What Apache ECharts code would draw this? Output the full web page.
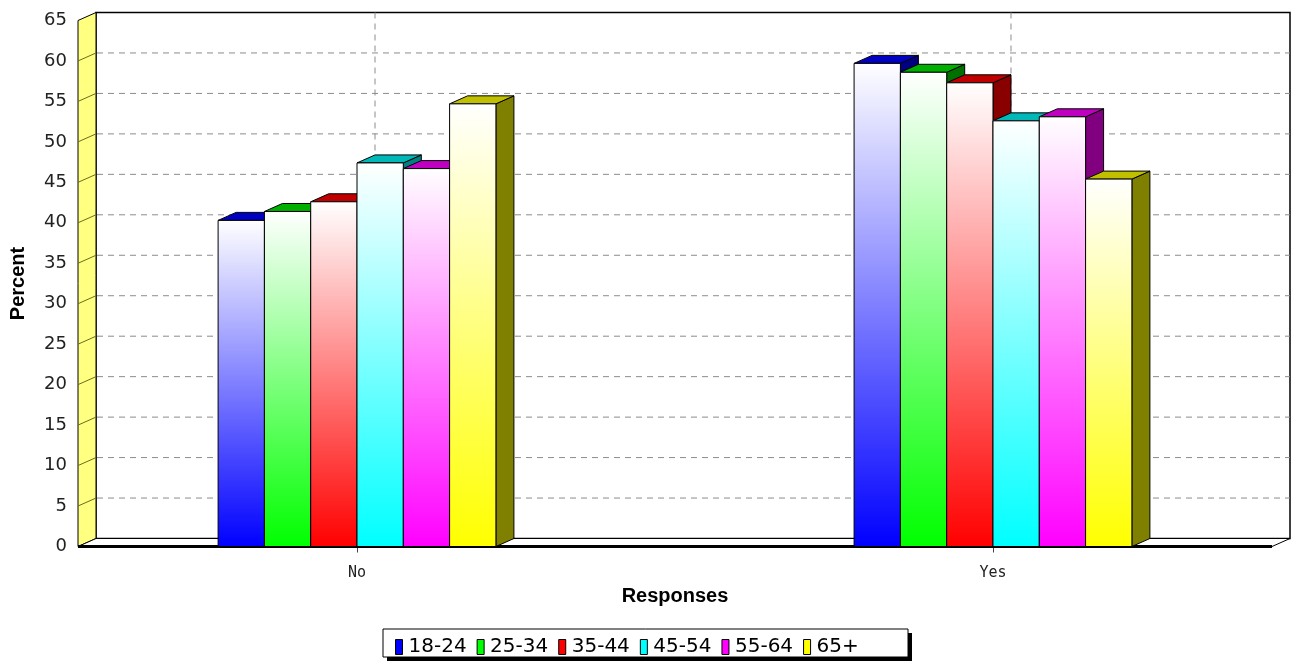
<!DOCTYPE html>
<html>
<head>
<meta charset="utf-8">
<script src="https://cdn.jsdelivr.net/npm/echarts@6/dist/echarts.min.js"></script>
<style>html,body{margin:0;padding:0;background:#fff;}#c{width:1293px;height:666px;}</style>
</head>
<body>
<div id="c"></div>
<script>
// ---- data ----
const categories = ['No', 'Yes'];
const ageGroups = ['18-24', '25-34', '35-44', '45-54', '55-64', '65+'];
const age1824 = [40.3, 59.7];
const age2534 = [41.4, 58.6];
const age3544 = [42.6, 57.3];
const age4554 = [47.4, 52.6];
const age5564 = [46.7, 53.1];
const age65p  = [54.7, 45.4];
const yMin = 0, yMax = 65, yStep = 5;

// ---- styling ----
const seriesValues = [age1824, age2534, age3544, age4554, age5564, age65p];
const baseColors = ['#0000ff', '#00ff00', '#ff0000', '#00ffff', '#ff00ff', '#ffff00'];
const topColors  = ['#0000c0', '#00b000', '#c00000', '#00b8b8', '#c000c0', '#c0c000'];
const sideColors = ['#000080', '#007000', '#880000', '#008080', '#800080', '#808000'];
const X_MIN = -0.4387, X_MAX = 1.4387;
const BAR_UNITS = 0.0728;
const DX = 18, DY = -8;

function frameRender(params, api) {
  const tl = api.coord([X_MIN, yMax]);
  const bl = api.coord([X_MIN, yMin]);
  const br = api.coord([X_MAX, yMin]);
  const tr = api.coord([X_MAX, yMax]);
  const children = [];
  // back wall
  children.push({type: 'rect', shape: {x: tl[0] + DX, y: tl[1] + DY, width: br[0] - bl[0], height: bl[1] - tl[1]},
    style: {fill: '#fff', stroke: '#000', lineWidth: 1.5}});
  // back grid lines
  for (let v = yMin + yStep; v < yMax; v += yStep) {
    const a = api.coord([X_MIN, v]), b = api.coord([X_MAX, v]);
    children.push({type: 'line', shape: {x1: a[0] + DX + 1, y1: a[1] + DY, x2: b[0] + DX, y2: b[1] + DY},
      style: {stroke: '#8c8c8c', lineWidth: 1, lineDash: [6, 5]}});
  }
  for (let c = 0; c < categories.length; c++) {
    const a = api.coord([c, yMax]), b = api.coord([c, yMin]);
    children.push({type: 'line', shape: {x1: a[0] + DX, y1: a[1] + DY, x2: b[0] + DX, y2: b[1] + DY},
      style: {stroke: '#8c8c8c', lineWidth: 1, lineDash: [6, 5]}});
  }
  // left wall
  children.push({type: 'polygon', shape: {points: [[tl[0], tl[1]], [tl[0] + DX, tl[1] + DY], [bl[0] + DX, bl[1] + DY], [bl[0], bl[1]]]},
    style: {fill: '#ffff80', stroke: '#000', lineWidth: 1}});
  for (let v = yMin + yStep; v < yMax; v += yStep) {
    const a = api.coord([X_MIN, v]);
    children.push({type: 'line', shape: {x1: a[0], y1: a[1], x2: a[0] + DX, y2: a[1] + DY},
      style: {stroke: '#6b6b20', lineWidth: 1}});
  }
  // floor
  children.push({type: 'polygon', shape: {points: [[bl[0], bl[1]], [br[0], br[1]], [br[0] + DX, br[1] + DY], [bl[0] + DX, bl[1] + DY]]},
    style: {fill: '#fff', stroke: '#000', lineWidth: 1}});
  children.push({type: 'line', shape: {x1: bl[0], y1: bl[1], x2: br[0], y2: br[1]},
    style: {stroke: '#000', lineWidth: 3}});
  return {type: 'group', children: children};
}

function barRender(i) {
  return function (params, api) {
    const x = api.value(0), v = api.value(1);
    const top = api.coord([x, v]);
    const base = api.coord([x, yMin]);
    const w = api.size([BAR_UNITS, 0])[0];
    const x0 = top[0] + (i - ageGroups.length / 2) * w;
    const x1 = x0 + w;
    const ty = top[1], by = base[1];
    return {type: 'group', children: [
      {type: 'polygon', shape: {points: [[x1, ty], [x1 + DX, ty + DY], [x1 + DX, by + DY], [x1, by]]},
        style: {fill: sideColors[i], stroke: '#000', lineWidth: 1}},
      {type: 'polygon', shape: {points: [[x0, ty], [x1, ty], [x1 + DX, ty + DY], [x0 + DX, ty + DY]]},
        style: {fill: topColors[i], stroke: '#000', lineWidth: 1}},
      {type: 'rect', shape: {x: x0, y: ty, width: w, height: by - ty},
        style: {fill: new echarts.graphic.LinearGradient(0, 0, 0, 1, [
          {offset: 0, color: '#ffffff'}, {offset: 1, color: baseColors[i]}]), stroke: '#000', lineWidth: 1}}
    ]};
  };
}

const series = [{
  type: 'custom', name: '_frame', z: 1, clip: false, silent: true,
  data: [[0, 0]], renderItem: frameRender
}];
ageGroups.forEach(function (g, i) {
  series.push({
    type: 'custom', name: g, z: 2, clip: false,
    itemStyle: {color: baseColors[i]},
    encode: {x: 0, y: 1},
    data: categories.map(function (c, j) { return [j, seriesValues[i][j]]; }),
    renderItem: barRender(i)
  });
});

const chart = echarts.init(document.getElementById('c'), null, {renderer: 'canvas'});
chart.setOption({
  animation: false,
  backgroundColor: '#ffffff',
  grid: {left: 78, top: 20.5, width: 1194, height: 526, outerBoundsMode: 'none'},
  xAxis: {
    type: 'value', min: X_MIN, max: X_MAX,
    name: 'Responses', nameLocation: 'middle', nameGap: 40,
    nameTextStyle: {fontFamily: 'Liberation Sans', fontWeight: 'bold', fontSize: 20, color: '#000'},
    axisLine: {show: false},
    splitLine: {show: false},
    axisTick: {show: true, customValues: [0, 1], length: 6, lineStyle: {color: '#444'}},
    axisLabel: {customValues: [0, 1], margin: 19, fontFamily: 'DejaVu Sans Mono', fontSize: 15, color: '#222',
      formatter: function (v) { return Number.isInteger(v) ? categories[v] : ''; }}
  },
  yAxis: {
    type: 'value', min: yMin, max: yMax, interval: yStep,
    name: 'Percent', nameLocation: 'middle', nameGap: 50, nameRotate: 90,
    nameTextStyle: {fontFamily: 'Liberation Sans', fontWeight: 'bold', fontSize: 20, color: '#000'},
    axisLine: {show: true, lineStyle: {color: '#000', width: 3}},
    axisTick: {show: true, length: 6, lineStyle: {color: '#444'}},
    splitLine: {show: false},
    axisLabel: {margin: 11, fontFamily: 'DejaVu Sans', fontSize: 18, color: '#222'}
  },
  legend: {
    data: ageGroups, left: 390, top: 632, z: 10,
    icon: 'rect', itemWidth: 7, itemHeight: 15, itemGap: 10, selectedMode: false,
    itemStyle: {borderColor: '#000', borderWidth: 1},
    textStyle: {fontFamily: 'DejaVu Sans', fontSize: 20, color: '#000', padding: [0, 0, 0, 1]}
  },
  graphic: [
    {type: 'rect', z: 0, shape: {x: 387, y: 633, width: 525, height: 28}, style: {fill: '#000'}},
    {type: 'rect', z: 1, shape: {x: 383, y: 629, width: 525, height: 28}, style: {fill: '#fff', stroke: '#000', lineWidth: 1}}
  ],
  series: series
});
</script>
</body>
</html>
